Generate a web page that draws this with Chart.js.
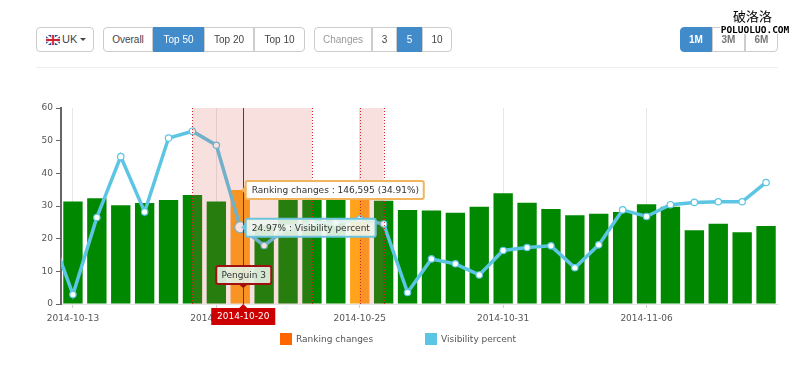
<!DOCTYPE html>
<html><head><meta charset="utf-8">
<script src="https://cdn.jsdelivr.net/npm/chart.js@4"></script>
<style>
html,body{margin:0;padding:0;background:#fff;width:800px;height:365px;overflow:hidden}
#wrap{position:relative;width:800px;height:365px}
canvas{position:absolute;left:0;top:0}
.b{position:absolute;top:27px;height:25px;box-sizing:border-box;border:1px solid #ccc;background:#fff;color:#444;font:10px/23px "Liberation Sans",sans-serif;text-align:center;margin-left:-1px}
.on{background:#428bca;border-color:#428bca;color:#fff}
.l{border-radius:4px 0 0 4px}.r{border-radius:0 4px 4px 0}
.hr{position:absolute;left:36px;width:742px;top:67px;height:1px;background:#eee}
.lg{position:absolute;top:333px;font:9px/12px "DejaVu Sans",sans-serif;color:#555}
.sw{position:absolute;top:333px;width:12px;height:12px}
.wm{position:absolute;background:#fff;color:#000;text-align:center}
</style></head><body><div id="wrap">
<canvas id="c" width="800" height="365"></canvas>
<div class="b" style="left:37px;width:58px;border-radius:4px;font-size:11px;text-align:left;padding-left:25px;border-color:#ccc">UK <span style="display:inline-block;border-top:3px solid #444;border-left:3px solid transparent;border-right:3px solid transparent;vertical-align:2px"></span>
<svg style="position:absolute;left:9px;top:7px" width="14" height="10" viewBox="0 0 14 10"><rect width="14" height="10" fill="#3a4a8c"/><path d="M0 0L14 10M14 0L0 10" stroke="#fff" stroke-width="2"/><path d="M7 0V10M0 5H14" stroke="#fff" stroke-width="3.4"/><path d="M7 0V10M0 5H14" stroke="#d3202f" stroke-width="1.8"/></svg></div>
<div class="b l" style="left:104px;width:50px">Overall</div>
<div class="b on" style="left:154px;width:51px">Top 50</div>
<div class="b" style="left:205px;width:50px">Top 20</div>
<div class="b r" style="left:255px;width:51px">Top 10</div>
<div class="b l" style="left:315px;width:58px;color:#999">Changes</div>
<div class="b" style="left:373px;width:25px">3</div>
<div class="b on" style="left:398px;width:25px">5</div>
<div class="b r" style="left:423px;width:30px">10</div>
<div class="b on l" style="left:681px;width:32px;font-weight:bold">1M</div>
<div class="b" style="left:713px;width:33px;color:#777;font-weight:bold">3M</div>
<div class="b r" style="left:746px;width:33px;color:#777;font-weight:bold">6M</div>
<div class="hr"></div>
<div class="wm" style="left:733px;top:8px;width:39px;height:16px;font:13px/16px 'Noto Sans CJK SC',sans-serif">破洛洛</div>
<div class="wm" style="left:720px;top:25px;width:70px;height:9px;font:bold 9.5px/9px 'DejaVu Sans Mono',monospace">POLUOLUO.COM</div>
<div id="legend"></div>
</div>
<script>
const categories = ['2014-10-12','2014-10-13','2014-10-14','2014-10-15','2014-10-16','2014-10-17','2014-10-18','2014-10-19','2014-10-20','2014-10-21','2014-10-22','2014-10-23','2014-10-24','2014-10-25','2014-10-26','2014-10-27','2014-10-28','2014-10-29','2014-10-30','2014-10-31','2014-11-01','2014-11-02','2014-11-03','2014-11-04','2014-11-05','2014-11-06','2014-11-07','2014-11-08','2014-11-09','2014-11-10','2014-11-11'];
const rankingChanges = [null,31.4,32.4,30.2,30.9,31.8,33.4,31.4,34.9,24,32,32.8,32,32,31.6,28.8,28.6,27.9,29.8,33.9,31,29.1,27.2,27.6,28.2,30.5,29.8,22.6,24.6,22,23.9];
const visibilityPercent = [23,2.9,26.5,45.1,28.2,50.8,52.9,48.6,23.5,17.9,23.5,24.8,24.9,26,24.5,3.5,13.8,12.3,8.9,16.4,17.3,17.8,11.1,18.1,28.8,26.8,30.4,31.1,31.3,31.3,37.2];
const highlightedDays = ['2014-10-20','2014-10-25'];
const tickLabels = ['2014-10-13','2014-10-19','2014-10-25','2014-10-31','2014-11-06'];
const yTicks = [0,10,20,30,40,50,60];
const bands = [['2014-10-18','2014-10-23'],['2014-10-25','2014-10-26']];
const hoverDay = '2014-10-20';
const penguinLabel = 'Penguin 3';
const rankingTip = 'Ranking changes : 146,595 (34.91%)';
const visibilityTip = '24.97% : Visibility percent';
const seriesNames = ['Ranking changes','Visibility percent'];
const legendColors = ['#ff6600','#5bc5e3'];

const FONT = '9px "DejaVu Sans", sans-serif';
function rr(c,x,y,w,h,r){c.beginPath();c.roundRect(x,y,w,h,r);}
const overlay = {
  id:'overlay',
  afterDatasetsDraw(ch){
    const c=ch.ctx,a=ch.chartArea,x=ch.scales.x;
    c.save();
    bands.forEach(([s,e])=>{
      const x0=x.getPixelForValue(categories.indexOf(s)),x1=x.getPixelForValue(categories.indexOf(e));
      c.fillStyle='rgba(217,83,79,0.18)';c.fillRect(x0,a.top,x1-x0,a.bottom-a.top);
      c.strokeStyle='#d8232a';c.lineWidth=1;c.setLineDash([1,2]);
      [x0,x1].forEach(p=>{c.beginPath();c.moveTo(Math.round(p)+.5,a.top);c.lineTo(Math.round(p)+.5,a.bottom);c.stroke();});
      c.setLineDash([]);
    });
    c.restore();
  },
  afterDraw(ch){
    const c=ch.ctx,a=ch.chartArea,x=ch.scales.x,y=ch.scales.y;
    const hi=categories.indexOf(hoverDay);
    const px=x.getPixelForValue(hi)+3;
    c.save();
    c.strokeStyle='#e00000';c.lineWidth=1;c.beginPath();c.moveTo(Math.round(px)+.5,a.top);c.lineTo(Math.round(px)+.5,a.bottom);c.stroke();
    c.font=FONT;c.textBaseline='middle';
    const tip=(tx,ty,w,h,border,fill,text,textColor,align)=>{
      c.fillStyle=fill;c.strokeStyle=border;c.lineWidth=2;
      rr(c,tx,ty,w,h,2);c.fill();c.stroke();
      c.fillStyle=textColor;c.textAlign=align||'left';
      c.fillText(text,align==='center'?tx+w/2:tx+6,ty+h/2+.5);
    };
    const py1=y.getPixelForValue(rankingChanges[hi]);
    const ax=px+2;
    c.fillStyle='#f3b35c';c.beginPath();c.moveTo(ax-4,py1);c.lineTo(ax+1,py1-5);c.lineTo(ax+1,py1+5);c.fill();
    tip(ax+.5,py1-9,178,18,'#f0b55e','rgba(255,255,255,.93)',rankingTip,'#333');
    const py2=y.getPixelForValue(visibilityPercent[hi]);
    c.fillStyle='#6cc3dc';c.beginPath();c.moveTo(ax-4,py2);c.lineTo(ax+1,py2-5);c.lineTo(ax+1,py2+5);c.fill();
    tip(ax+.5,py2-8.5,130,18,'#6cc3dc','rgba(238,247,240,.9)',visibilityTip,'#333');
    c.fillStyle='#a01010';c.beginPath();c.moveTo(px-5,a.bottom-20);c.lineTo(px+5,a.bottom-20);c.lineTo(px,a.bottom-16);c.fill();
    tip(px-27,a.bottom-38,55,18,'#a01010','rgba(226,240,226,.92)',penguinLabel,'#333','center');
    c.fillStyle='#cc0000';c.beginPath();c.moveTo(px-4,a.bottom+4);c.lineTo(px,a.bottom);c.lineTo(px+4,a.bottom+4);c.fill();
    c.fillRect(px-32,a.bottom+4,64,17);
    c.fillStyle='#fff';c.textAlign='center';c.fillText(hoverDay,px,a.bottom+13);
    c.restore();
  }
};
new Chart(document.getElementById('c'),{
  type:'bar',
  data:{labels:categories,datasets:[
    {type:'line',label:seriesNames[1],data:visibilityPercent,order:1,borderColor:'#5bc5e3',borderWidth:3.5,tension:0,
     pointBackgroundColor:'#fff',pointBorderColor:'#5bc5e3',pointBorderWidth:1.2,
     pointRadius:visibilityPercent.map((v,i)=>categories[i]===hoverDay?5.5:3.2)},
    {type:'bar',label:seriesNames[0],data:rankingChanges,order:2,barPercentage:.81,categoryPercentage:1,
     backgroundColor:categories.map(d=>highlightedDays.includes(d)?'#ffa31a':'#008800')}
  ]},
  options:{
    responsive:false,animation:false,
    layout:{padding:{top:108,right:22,bottom:31,left:0}},
    plugins:{legend:{display:false},tooltip:{enabled:false}},
    scales:{
      x:{min:categories[1],offset:true,
        afterFit(s){s.height=30;},
        border:{color:'#e4e4e4',width:1},
        grid:{offset:false,drawOnChartArea:true,tickLength:4,
          color(ctx){return ctx.tick&&tickLabels.includes(ctx.tick.label)?'#e6e6e6':'rgba(0,0,0,0)';},
          tickColor(ctx){return ctx.tick&&tickLabels.includes(ctx.tick.label)?'#ccc':'rgba(0,0,0,0)';}},
        ticks:{autoSkip:false,maxRotation:0,minRotation:0,padding:5,color:'#555',font:{family:'"DejaVu Sans"',size:9},
          callback(v,i){const l=this.getLabelForValue(v);return tickLabels.includes(l)?l:'';}}
      },
      y:{min:yTicks[0],max:yTicks[yTicks.length-1],
        afterFit(s){s.width=61;},
        border:{color:'#666',width:2},
        grid:{drawOnChartArea:false,tickLength:5,tickColor:'#666'},
        ticks:{stepSize:10,padding:3,color:'#555',font:{family:'"DejaVu Sans"',size:9}}
      }
    }
  },
  plugins:[overlay]
});
const lg=document.getElementById('legend');
[[280,296],[425,441]].forEach(([sx,tx],i)=>{
  const s=document.createElement('div');s.className='sw';s.style.left=sx+'px';s.style.background=legendColors[i];lg.appendChild(s);
  const t=document.createElement('div');t.className='lg';t.style.left=tx+'px';t.textContent=seriesNames[i];lg.appendChild(t);
});
</script></body></html>
